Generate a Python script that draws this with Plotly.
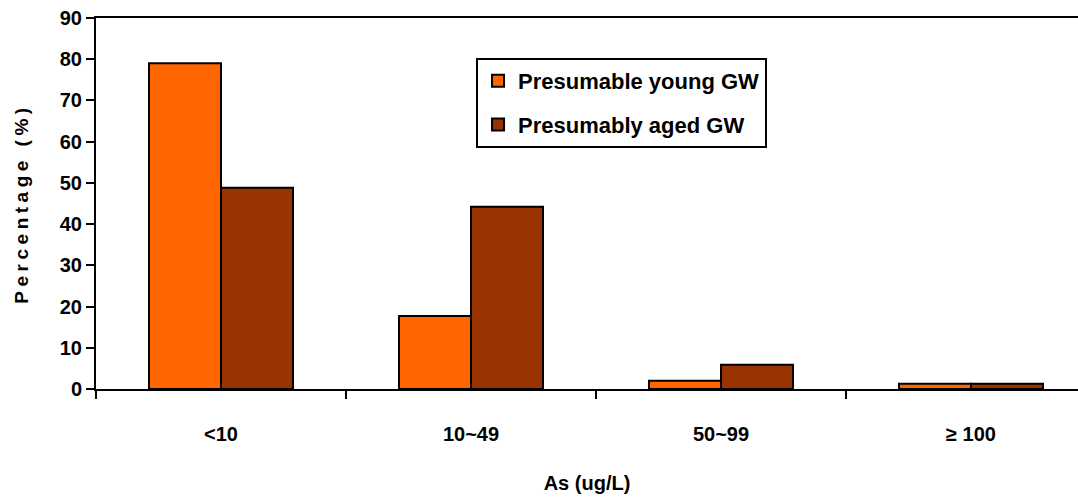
import plotly.graph_objects as go

categories = ["<10", "10~49", "50~99", "≥ 100"]
young = [79.0, 17.7, 2.0, 1.3]
aged = [48.8, 44.2, 5.9, 1.3]
series_names = ["Presumable young GW", "Presumably aged GW"]
y_ticks = [0, 10, 20, 30, 40, 50, 60, 70, 80, 90]

FONT = "Liberation Sans, Arial, sans-serif"

fig = go.Figure()
fig.add_trace(go.Bar(x=categories, y=young, name=series_names[0],
                     marker=dict(color="#FF6600", line=dict(color="black", width=2)),
                     legendgroup="a"))
fig.add_trace(go.Bar(x=categories, y=aged, name=series_names[1],
                     marker=dict(color="#993300", line=dict(color="black", width=2)),
                     legendgroup="b"))

fig.update_layout(
    width=1078, height=498,
    margin=dict(l=96, r=0, t=18, b=109),
    paper_bgcolor="white", plot_bgcolor="white",
    barmode="group", bargap=0.424, bargroupgap=0,
    font=dict(family=FONT, color="black", size=20, weight="bold"),
    legend=dict(x=0.387, y=0.892, xanchor="left", yanchor="top",
                bordercolor="black", borderwidth=2, bgcolor="white",
                font=dict(size=22, family=FONT, weight="bold"),
                tracegroupgap=12, itemwidth=30),
    xaxis=dict(type="category", range=[-0.5, -0.5 + 982 / 250],
               showline=True, linecolor="black", linewidth=2, mirror=True,
               ticks="outside", ticklen=8, tickwidth=2, tickcolor="black",
               tickson="boundaries", ticklabelstandoff=26,
               tickfont=dict(size=20, family=FONT, weight="bold"),
               showgrid=False, zeroline=False,
               title=dict(text="As (ug/L)", standoff=32,
                          font=dict(size=20, family=FONT, weight="bold"))),
    yaxis=dict(range=[0, 90], tickvals=y_ticks,
               showline=True, linecolor="black", linewidth=2,
               ticks="outside", ticklen=8, tickwidth=2, tickcolor="black",
               tickfont=dict(size=20, family=FONT, weight="bold"),
               showgrid=False, zeroline=False,
               title=dict(text="Percentage (%)", standoff=26,
                          font=dict(size=19, family=FONT, weight="bold"))),
)

post = """
var gd = document.getElementById('{plot_id}');
function spaceTitle() {
  gd.querySelectorAll('.ytitle').forEach(function (e) {
    e.setAttribute('letter-spacing', '4.5');
  });
}
spaceTitle();
gd.on('plotly_afterplot', spaceTitle);
"""

fig.write_html("out.html", post_script=post)
